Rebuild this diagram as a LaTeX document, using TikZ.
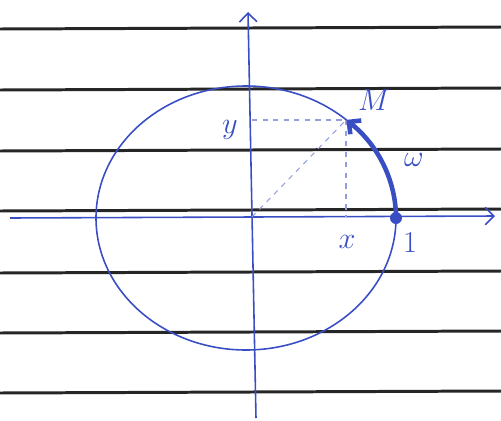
\documentclass[tikz,border=0pt]{standalone}
\usetikzlibrary{arrows.meta}
\definecolor{pen}{RGB}{58,78,196}
\tikzset{
  rule/.style={line width=1.7pt, black!85},
  ink/.style={pen, line width=0.9pt},
  guide/.style={pen!55, dashed, line width=0.6pt},
  lbl/.style={pen, font=\LARGE}
}
\begin{document}
\begin{tikzpicture}[x=0.02cm,y=-0.02cm]
  \useasboundingbox (0,0) rectangle (501,420);
  \foreach \ry in {28,89,150,210,272,332,392}
    \draw[rule] (0,\ry+1) -- (501,\ry-1);

  \coordinate (C) at (246,218);
  \coordinate (O) at (252,217);
  \coordinate (P) at (396,218);
  \coordinate (M) at (346,120);
  \coordinate (xl) at (10,218);
  \coordinate (xr) at (495,216);
  \coordinate (yb) at (256,418);
  \coordinate (yt) at (248,12);

  \draw[ink, -{Straight Barb[length=5pt]}] (xl) -- (xr);
  \draw[ink, -{Straight Barb[length=5pt]}] (yb) -- (yt);
  \draw[ink] (C) ellipse[x radius=150, y radius=132];

  \draw[guide] (M -| O) -- (M);
  \draw[guide] (M) -- (M |- O);
  \draw[guide] (O) -- (M);

  \draw[pen, line width=2.6pt, -{Straight Barb[length=5pt]}]
    (P) arc[start angle=0, end angle=-48, x radius=150, y radius=132];
  \fill[pen] (P) circle[radius=6];

  \node[lbl] (lM) at (374,100) {$M$};
  \node[lbl] (ly) at (230,130) {$y$};
  \node[lbl] (lw) at (414,160) {$\omega$};
  \node[lbl] (lx) at (347,242) {$x$};
  \node[lbl] (l1) at (410,243) {$1$};
\end{tikzpicture}
\end{document}
